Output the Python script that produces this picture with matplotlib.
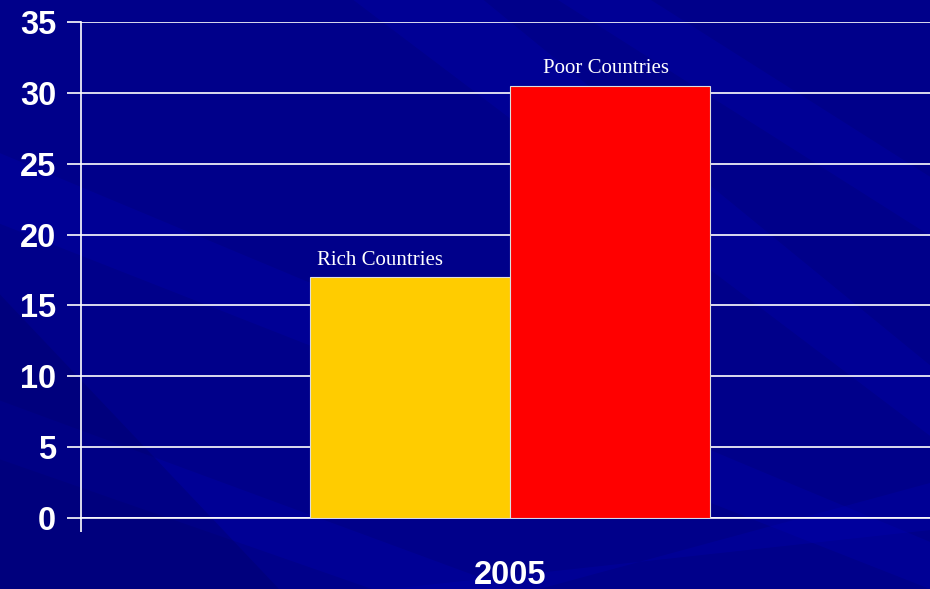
import matplotlib.pyplot as plt
from matplotlib.patches import Polygon

# data
categories = ["Rich Countries", "Poor Countries"]
values = [17, 30.5]
colors = ["#FFCC00", "#FF0000"]
year = "2005"
yticks = [0, 5, 10, 15, 20, 25, 30, 35]

fig = plt.figure(figsize=(9.3, 5.89), dpi=100)
fig.patch.set_facecolor("#00008A")

# background axes with diagonal streaks, drawn behind the chart
bg = fig.add_axes([0, 0, 1, 1], zorder=-1)
bg.set_xlim(0, 1)
bg.set_ylim(0, 1)
bg.axis("off")
streaks = [
    [(0.0, 0.62), (0.0, 0.74), (1.0, 0.08), (1.0, 0.0)],
    [(0.38, 1.0), (0.52, 1.0), (1.0, 0.38), (1.0, 0.26)],
    [(0.42, 0.0), (0.58, 0.0), (1.0, 0.18), (1.0, 0.1)],
    [(0.0, 0.22), (0.0, 0.32), (0.55, 0.0), (0.4, 0.0)],
    [(0.6, 1.0), (0.7, 1.0), (1.0, 0.7), (1.0, 0.6)],
]
for pts in streaks:
    bg.add_patch(Polygon(pts, closed=True, facecolor="#0000B8", alpha=0.25, edgecolor="none"))
bg.add_patch(Polygon([(0.0, 0.0), (0.0, 0.5), (0.3, 0.0)], closed=True,
                     facecolor="#000060", alpha=0.3, edgecolor="none"))

ax = fig.add_axes([81 / 930, 1 - 518 / 589, 849 / 930, 496 / 589])
ax.set_facecolor("none")

x = [-0.5, 0.5]
ax.bar(x, values, width=1.0, color=colors, edgecolor="#DDDDDD", linewidth=0.8, zorder=3)

ax.set_xlim(-2.145, 2.1)
ax.set_ylim(0, 35)
ax.set_yticks(yticks)
ax.yaxis.grid(True, color="white", linewidth=1.2, zorder=0)
ax.set_axisbelow(True)

for s in ["top", "right"]:
    ax.spines[s].set_visible(False)
ax.spines["left"].set_color("white")
ax.spines["bottom"].set_color("white")
ax.spines["left"].set_linewidth(1.2)
ax.spines["bottom"].set_linewidth(1.2)

ax.tick_params(axis="y", colors="white", length=10, width=1.2, pad=8)
for lab in ax.get_yticklabels():
    lab.set_fontfamily("Liberation Sans")
    lab.set_fontweight("bold")
    lab.set_fontsize(23.5)
    lab.set_color("white")

ax.set_xticks([-2.145])
ax.set_xticklabels([""])
ax.tick_params(axis="x", colors="white", length=10, width=1.2)

ax.text(0, -0.115, year, transform=ax.get_xaxis_transform(), ha="center", va="center",
        fontsize=23.5, fontweight="bold", color="white", family="Liberation Sans")

offsets = [-0.15, -0.02]
for xi, v, name, off in zip(x, values, categories, offsets):
    ax.text(xi + off, v + 1.2, name, ha="center", va="center", color="white",
            fontsize=15, family="Liberation Serif")

fig.savefig("out.png", dpi=100, facecolor=fig.get_facecolor())
